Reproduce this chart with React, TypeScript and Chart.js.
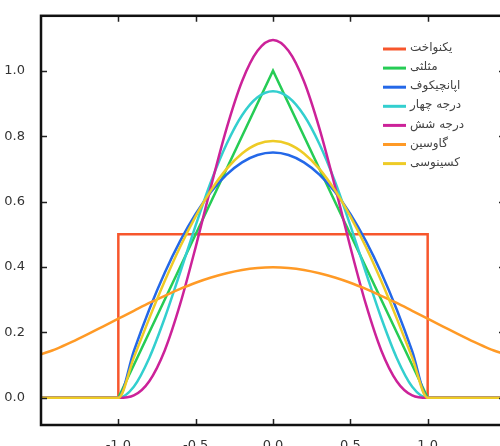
import React, { useEffect, useRef } from "react";
import { Chart, registerables } from "chart.js";

Chart.register(...registerables);

// x samples for smooth kernels
const XS = [
  -1.5, -1.4, -1.3, -1.2, -1.1, -1.0, -0.9, -0.8, -0.7, -0.6, -0.5, -0.4, -0.3, -0.2, -0.1, 0.0,
  0.1, 0.2, 0.3, 0.4, 0.5, 0.6, 0.7, 0.8, 0.9, 1.0, 1.1, 1.2, 1.3, 1.4, 1.5,
];

const UNIFORM_X = [-1.5, -1.0, -1.0, 1.0, 1.0, 1.5];
const UNIFORM_Y = [0, 0, 0.5, 0.5, 0, 0];

const TRIANGLE_X = [-1.5, -1.0, 0.0, 1.0, 1.5];
const TRIANGLE_Y = [0, 0, 1.0, 0, 0];

const EPAN = [
  0, 0, 0, 0, 0, 0, 0.1425, 0.27, 0.3825, 0.48, 0.5625, 0.63, 0.6825, 0.72, 0.7425, 0.75,
  0.7425, 0.72, 0.6825, 0.63, 0.5625, 0.48, 0.3825, 0.27, 0.1425, 0, 0, 0, 0, 0, 0,
];

const QUARTIC = [
  0, 0, 0, 0, 0, 0, 0.034, 0.122, 0.244, 0.384, 0.527, 0.662, 0.776, 0.864, 0.919, 0.9375,
  0.919, 0.864, 0.776, 0.662, 0.527, 0.384, 0.244, 0.122, 0.034, 0, 0, 0, 0, 0, 0,
];

const TRIWEIGHT = [
  0, 0, 0, 0, 0, 0, 0.0075, 0.051, 0.145, 0.287, 0.461, 0.648, 0.824, 0.968, 1.061, 1.094,
  1.061, 0.968, 0.824, 0.648, 0.461, 0.287, 0.145, 0.051, 0.0075, 0, 0, 0, 0, 0, 0,
];

const GAUSSIAN = [
  0.133, 0.15, 0.171, 0.194, 0.218, 0.242, 0.266, 0.29, 0.312, 0.333, 0.352, 0.368, 0.381,
  0.391, 0.397, 0.399, 0.397, 0.391, 0.381, 0.368, 0.352, 0.333, 0.312, 0.29, 0.266, 0.242,
  0.218, 0.194, 0.171, 0.15, 0.133,
];

const COSINE = [
  0, 0, 0, 0, 0, 0, 0.123, 0.243, 0.357, 0.462, 0.555, 0.635, 0.7, 0.747, 0.776, 0.785,
  0.776, 0.747, 0.7, 0.635, 0.555, 0.462, 0.357, 0.243, 0.123, 0, 0, 0, 0, 0, 0,
];

const LABELS = ["یکنواخت", "مثلثی", "اپانچیکوف", "درجه چهار", "درجه شش", "گاوسین", "کسینوسی"];
const COLORS = ["#f7562c", "#26cc55", "#2468e8", "#33cfcf", "#cc2299", "#ff9a26", "#eecb26"];

const X_TICKS = [-1.0, -0.5, 0.0, 0.5, 1.0];
const Y_TICKS = [0.0, 0.2, 0.4, 0.6, 0.8, 1.0];

const pts = (xs: number[], ys: number[]) => xs.map((x, i) => ({ x, y: ys[i] }));

const framePlugin = {
  id: "frameAndLegend",
  afterDatasetsDraw(chart: any) {
    const { ctx, chartArea } = chart;
    const { left, right, top, bottom } = chartArea;
    const xs = chart.scales.x;
    const ys = chart.scales.y;
    ctx.save();
    // tick marks, inward on all four sides
    ctx.strokeStyle = "#222";
    ctx.lineWidth = 1.5;
    const L = 6;
    for (const v of X_TICKS) {
      const px = Math.round(xs.getPixelForValue(v)) + 0.5;
      ctx.beginPath();
      ctx.moveTo(px, bottom);
      ctx.lineTo(px, bottom - L);
      ctx.moveTo(px, top);
      ctx.lineTo(px, top + L);
      ctx.stroke();
    }
    for (const v of Y_TICKS) {
      const py = Math.round(ys.getPixelForValue(v)) + 0.5;
      ctx.beginPath();
      ctx.moveTo(left, py);
      ctx.lineTo(left + L, py);
      ctx.moveTo(right, py);
      ctx.lineTo(right - L, py);
      ctx.stroke();
    }
    // frame
    ctx.strokeStyle = "#111";
    ctx.lineWidth = 2.5;
    ctx.strokeRect(left, top, right - left, bottom - top);

    // legend
    const lx = 383;
    const ly = 49;
    const step = 19.1;
    ctx.font = "12px 'DejaVu Sans'";
    ctx.textBaseline = "middle";
    ctx.textAlign = "left";
    chart.data.datasets.forEach((ds: any, i: number) => {
      const y = ly + i * step;
      ctx.strokeStyle = ds.borderColor;
      ctx.lineWidth = 3;
      ctx.beginPath();
      ctx.moveTo(lx, y);
      ctx.lineTo(lx + 23, y);
      ctx.stroke();
      ctx.fillStyle = "#444";
      ctx.fillText(ds.label, lx + 27, y - 1);
    });
    ctx.restore();
  },
};

export default function App() {
  const ref = useRef<HTMLCanvasElement | null>(null);
  useEffect(() => {
    document.body.style.margin = "0";
    const canvas = ref.current!;
    const seriesData = [
      pts(UNIFORM_X, UNIFORM_Y),
      pts(TRIANGLE_X, TRIANGLE_Y),
      pts(XS, EPAN),
      pts(XS, QUARTIC),
      pts(XS, TRIWEIGHT),
      pts(XS, GAUSSIAN),
      pts(XS, COSINE),
    ];
    const n = LABELS.length;
    const chart = new Chart(canvas, {
      type: "line",
      data: {
        datasets: LABELS.map((label, i) => ({
          label,
          data: seriesData[i],
          borderColor: COLORS[i],
          backgroundColor: COLORS[i],
          borderWidth: 2.5,
          pointRadius: 0,
          fill: false,
          order: n - 1 - i,
          cubicInterpolationMode: i >= 2 ? "monotone" : "default",
          tension: 0,
        })),
      },
      options: {
        animation: false,
        responsive: false,
        layout: { padding: { top: 15, right: 15, left: 0, bottom: 0 } },
        plugins: { legend: { display: false }, tooltip: { enabled: false } },
        scales: {
          x: {
            type: "linear",
            min: -1.5,
            max: 1.5,
            grid: { display: false },
            border: { display: false },
            afterBuildTicks: (s: any) => {
              s.ticks = X_TICKS.map((v) => ({ value: v }));
            },
            afterFit: (s: any) => {
              s.height = 21;
            },
            ticks: {
              padding: 5,
              color: "#333",
              font: { family: "'DejaVu Sans'", size: 13 },
              maxRotation: 0,
              callback: (v: any) => Number(v).toFixed(1),
            },
          },
          y: {
            type: "linear",
            min: -0.083,
            max: 1.168,
            grid: { display: false },
            border: { display: false },
            afterBuildTicks: (s: any) => {
              s.ticks = Y_TICKS.map((v) => ({ value: v }));
            },
            afterFit: (s: any) => {
              s.width = 41;
            },
            ticks: {
              padding: 8,
              color: "#333",
              font: { family: "'DejaVu Sans'", size: 13 },
              callback: (v: any) => Number(v).toFixed(1),
            },
          },
        },
      },
      plugins: [framePlugin],
    } as any);
    return () => chart.destroy();
  }, []);
  return (
    <div style={{ position: "fixed", left: 0, top: 0, width: 500, height: 446, overflow: "hidden", background: "#fff" }}>
      <canvas ref={ref} width={520} height={446} style={{ width: 520, height: 446, display: "block" }} />
    </div>
  );
}
